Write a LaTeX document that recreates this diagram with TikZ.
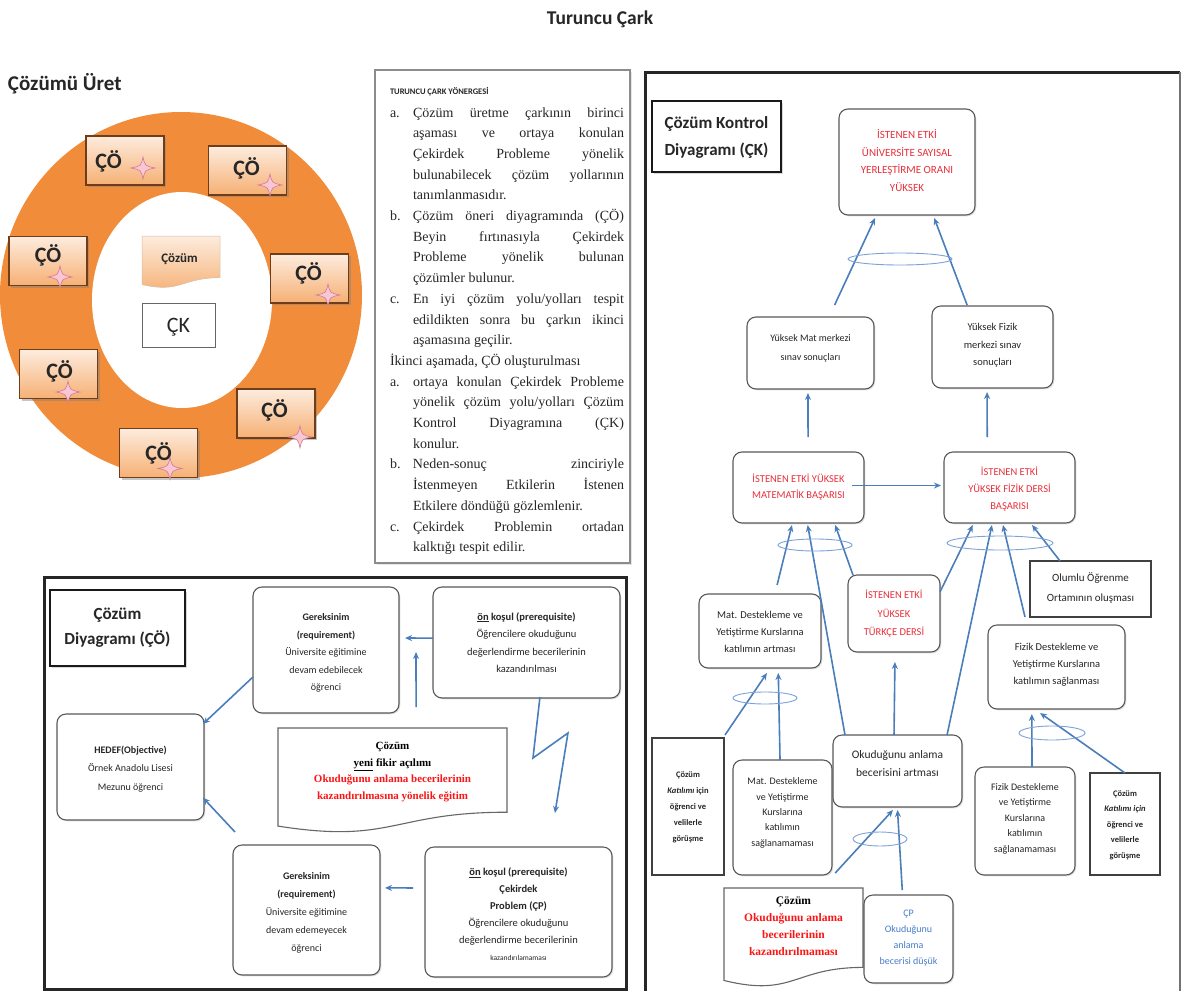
\documentclass[tikz,border=0pt]{standalone}
\usepackage{fontspec}
\setmainfont{Carlito}
\newfontfamily\tnr{Liberation Serif}
\usetikzlibrary{arrows.meta,calc,shadows}

\definecolor{ablue}{RGB}{74,126,187}
\definecolor{lblue}{RGB}{125,162,215}
\definecolor{ringor}{RGB}{241,141,58}
\definecolor{peachT}{RGB}{253,236,222}
\definecolor{peachB}{RGB}{246,176,116}
\definecolor{cobord}{RGB}{110,62,28}
\definecolor{red1}{RGB}{232,48,58}
\definecolor{red2}{RGB}{250,22,22}
\definecolor{cpblue}{RGB}{72,126,200}
\definecolor{spkL}{RGB}{247,200,212}
\definecolor{spkD}{RGB}{212,118,148}

% font size helper
\newcommand\fsz[2]{\fontsize{#1}{#2}\selectfont}
% text block placed at an offset (dx right, dy up) from the node centre
\newcommand\bxt[3]{\rlap{\kern#1pt\relax\makebox[0pt]{\raisebox{#2pt}[0pt][0pt]{\begin{tabular}{@{}c@{}}#3\end{tabular}}}}}
% justified and ragged lines of the instruction list
\newcommand\yline[2]{\makebox[23pt][l]{#1}\makebox[211pt][s]{#2}}
\newcommand\ylast[2]{\makebox[23pt][l]{#1}#2}
% flowchart "document" outline: x y w h style
\newcommand\docshape[5]{\path[#5, shift={(#1,#2)}, x=#3pt, y=-#4pt] (0,0) -- (1,0) -- (1,0.802) .. controls (0.5,0.802) and (0.5,1.107) .. (0,0.934) -- cycle;}
% four-pointed sparkle
\newcommand\sparkle[1]{\path[sparkle, shift={#1}] (0,-11) .. controls (2,-2) .. (12,0) .. controls (2,2) .. (0,11) .. controls (-2,2) .. (-12,0) .. controls (-2,-2) .. (0,-11) -- cycle;}

\begin{document}
\begin{tikzpicture}[x=1pt,y=-1pt,
  every node/.style={inner sep=0pt, outer sep=0pt},
  dim/.style 2 args={minimum width=#1pt, minimum height=#2pt},
  rb/.style={draw=black!65, line width=1.1pt, rounded corners=9pt, fill=white, text=black!85,
             drop shadow={shadow xshift=1.3pt, shadow yshift=-1.3pt, opacity=0.25}},
  sb/.style={draw=black!75, line width=1.1pt, fill=white, text=black!85,
             drop shadow={shadow xshift=1.3pt, shadow yshift=-1.3pt, opacity=0.25}},
  tb/.style={draw=black!90, line width=2pt, fill=white, text=black!85,
             drop shadow={shadow xshift=1.5pt, shadow yshift=-1.5pt, opacity=0.3}},
  co/.style={draw=cobord, line width=1.2pt, top color=peachT, bottom color=peachB, dim={78}{49},
             font=\bfseries\fsz{22}{23}, text=black!85,
             drop shadow={shadow xshift=2pt, shadow yshift=-2pt, opacity=0.45}},
  ar/.style={draw=ablue, line width=1.6pt, -{Stealth[length=7pt,width=6pt]}},
  loop/.style={draw=lblue, line width=0.9pt},
  sparkle/.style={draw=spkD, fill=spkL, line width=0.6pt},
  doc/.style={draw=black!60, line width=1.1pt, fill=white}]
\useasboundingbox (0,0) rectangle (1184,991);

% ---------- headings ----------
\node[font=\bfseries\fsz{19.5}{22}, text=black!85, anchor=base] (title) at (600,24) {Turuncu Çark};
\node[font=\bfseries\fsz{21}{24}, text=black!85, anchor=base west] (uret) at (8,90) {Çözümü Üret};

% ---------- solution wheel ----------
\fill[ringor] (181,295) ellipse [x radius=181, y radius=183];
\fill[white] (182,300) ellipse [x radius=90, y radius=108];

\docshape{142}{236}{78}{52}{top color=peachT, bottom color=peachB, draw=peachB!70!black!50, line width=0.5pt}
\node[dim={78}{52}, font=\bfseries\fsz{13}{15}, text=black!85] (czm) at (181,262) {\bxt{-1.5}{0}{Çözüm}};
\node[draw=black!60, line width=1pt, fill=white, dim={73}{44}, font=\fsz{22}{23}, text=black!85] (ck) at (178.5,325) {\bxt{0}{-8}{ÇK}};

\node[co] (co1) at (125,160.5) {\bxt{-16.5}{-7.5}{ÇÖ}};
\node[co] (co2) at (247.5,170.5) {\bxt{-1}{-5}{ÇÖ}};
\node[co] (co3) at (48,261) {\bxt{0}{-1.5}{ÇÖ}};
\node[co] (co4) at (309.5,278.5) {\bxt{-1}{-2}{ÇÖ}};
\node[co] (co5) at (58.5,374) {\bxt{1}{-4.5}{ÇÖ}};
\node[co] (co6) at (276,413.5) {\bxt{-1.5}{-4}{ÇÖ}};
\node[co] (co7) at (158.5,453) {\bxt{0}{-7.5}{ÇÖ}};

\sparkle{($(co1)+(18,7.5)$)}
\sparkle{($(co2)+(22.5,14.5)$)}
\sparkle{($(co3)+(12,16)$)}
\sparkle{($(co4)+(18.5,16.5)$)}
\sparkle{($(co5)+(9.5,18)$)}
\sparkle{($(co6)+(24,23.5)$)}
\sparkle{($(co7)+(11.5,15.5)$)}

% ---------- instruction box ----------
\node[draw=black!45, line width=1.3pt, fill=white, dim={255}{493}, anchor=north west,
      drop shadow={shadow xshift=1.5pt, shadow yshift=-1.5pt, opacity=0.2}] (yon) at (375,70) {};
\node[anchor=base west, font=\bfseries\fsz{8.5}{10}, text=black!85] (yontitle)
  at ($(yon.north west)+(15,24)$) {TURUNCU ÇARK YÖNERGESİ};
\node[anchor=base west, font=\tnr\fsz{14}{20.7}, text=black!85] (yonbody)
  at ($(yon.north west)+(15,47)$) {\begin{tabular}[t]{@{}l@{}}
\yline{a.}{Çözüm üretme çarkının birinci}\\
\yline{}{aşaması ve ortaya konulan}\\
\yline{}{Çekirdek Probleme yönelik}\\
\yline{}{bulunabilecek çözüm yollarının}\\
\ylast{}{tanımlanmasıdır.}\\
\yline{b.}{Çözüm öneri diyagramında (ÇÖ)}\\
\yline{}{Beyin fırtınasıyla Çekirdek}\\
\yline{}{Probleme yönelik bulunan}\\
\ylast{}{çözümler bulunur.}\\
\yline{c.}{En iyi çözüm yolu/yolları tespit}\\
\yline{}{edildikten sonra bu çarkın ikinci}\\
\ylast{}{aşamasına geçilir.}\\
İkinci aşamada, ÇÖ oluşturulması\\
\yline{a.}{ortaya konulan Çekirdek Probleme}\\
\yline{}{yönelik çözüm yolu/yolları Çözüm}\\
\yline{}{Kontrol Diyagramına (ÇK)}\\
\ylast{}{konulur.}\\
\yline{b.}{Neden-sonuç zinciriyle}\\
\yline{}{İstenmeyen Etkilerin İstenen}\\
\ylast{}{Etkilere döndüğü gözlemlenir.}\\
\yline{c.}{Çekirdek Problemin ortadan}\\
\ylast{}{kalktığı tespit edilir.}
\end{tabular}};

% ---------- solution control diagram (right panel) ----------
\draw[line width=3pt, black!85] (645,991) -- (645,72) -- (1180,72);
\draw[line width=1.3pt, black!55] (1180,72) -- (1180,991);

\node[tb, dim={129}{71}, font=\bfseries\fsz{17}{27}] (cktitle) at (716.5,136.5) {\bxt{0}{-4.25}{Çözüm Kontrol\\Diyagramı (ÇK)}};

\node[rb, dim={136}{106}, font=\fsz{11}{17.7}, text=red1] (goal) at (907,162) {\bxt{0}{-2.25}{İSTENEN ETKİ\\ÜNİVERSİTE SAYISAL\\YERLEŞTİRME ORANI\\YÜKSEK}};
\node[rb, dim={127}{72}, font=\fsz{10}{18.5}] (matres) at (810.5,353) {\bxt{0}{3}{Yüksek Mat merkezi\\sınav sonuçları}};
\node[rb, dim={121}{82}, font=\fsz{10.5}{17.5}] (fizres) at (992.5,347) {\bxt{0}{-0.5}{Yüksek Fizik\\merkezi sınav\\sonuçları}};
\node[rb, dim={131}{71}, font=\fsz{10.5}{16}, text=red1] (matach) at (798.5,487.5) {\bxt{0}{-2.25}{İSTENEN ETKİ YÜKSEK\\MATEMATİK BAŞARISI}};
\node[rb, dim={131}{71}, font=\fsz{10.5}{17}, text=red1] (fizach) at (1009.5,487.5) {\bxt{0}{-4.25}{İSTENEN ETKİ\\YÜKSEK FİZİK DERSİ\\BAŞARISI}};
\node[sb, dim={121}{56}, font=\fsz{11}{19.5}] (olumlu) at (1090.5,589) {\bxt{0}{-1.25}{Olumlu Öğrenme\\Ortamının oluşması}};
\node[rb, dim={92}{77}, font=\fsz{10.5}{18.5}, text=red1] (turkce) at (894,613.5) {\bxt{0}{-2.75}{İSTENEN ETKİ\\YÜKSEK\\TÜRKÇE DERSİ}};
\node[rb, dim={122}{74}, font=\fsz{10.5}{17}] (matdes) at (760,631) {\bxt{0}{-3.75}{Mat. Destekleme ve\\Yetiştirme Kurslarına\\katılımın artması}};
\node[rb, dim={137}{84}, font=\fsz{10.5}{17}] (fizdes) at (1056.5,667) {\bxt{0}{0.25}{Fizik Destekleme ve\\Yetiştirme Kurslarına\\katılımın sağlanması}};
\node[rb, dim={129}{72}, font=\fsz{11.5}{18}] (okuma) at (897.5,771) {\bxt{0}{4.25}{Okuduğunu anlama\\becerisini artması}};
\node[sb, dim={72}{137}, font=\bfseries\fsz{8.5}{16}] (cozl) at (688,806.5) {\bxt{0}{-2}{Çözüm\\\textit{Katılımı} için\\öğrenci ve\\velilerle\\görüşme}};
\node[rb, dim={99}{115}, font=\fsz{10}{15.3}] (matno) at (782.5,817.5) {\bxt{0}{2.5}{Mat. Destekleme\\ve Yetiştirme\\Kurslarına\\katılımın\\sağlanamaması}};
\node[rb, dim={100}{108}, font=\fsz{10}{15.5}] (fizno) at (1025,821) {\bxt{0}{0.5}{Fizik Destekleme\\ve Yetiştirme\\Kurslarına\\katılımın\\sağlanamaması}};
\node[sb, dim={70}{102}, font=\bfseries\fsz{8.5}{15.5}] (cozr) at (1125,824) {\bxt{0}{-2}{Çözüm\\\textit{Katılımı için}\\öğrenci ve\\velilerle\\görüşme}};

\docshape{724}{888}{139}{99}{doc}
\node[dim={139}{98}, font=\tnr\bfseries\fsz{11.5}{17}, text=red2] (cozdoc) at (793.5,937) {\bxt{0}{7}{\textcolor{black}{Çözüm}\\Okuduğunu anlama\\becerilerinin\\kazandırılmaması}};
\node[rb, dim={89}{88}, font=\fsz{10}{16}, text=cpblue] (cp) at (908.5,939) {\bxt{0}{-0.5}{ÇP\\Okuduğunu\\anlama\\becerisi düşük}};

% cause-effect links
\draw[ar] ($(matres.north west)!0.69!(matres.north east)+(0,-12)$) -- ($(goal.south west)!0.265!(goal.south east)+(0,3)$);
\draw[ar] ($(fizres.north west)!0.29!(fizres.north east)+(0,-1)$) -- ($(goal.south west)!0.70!(goal.south east)+(0,3)$);
\draw[loop] (900,259) ellipse [x radius=52, y radius=6];

\draw[ar] ($(matach.north west)!0.573!(matach.north east)+(0,-15)$) -- ($(matres.south west)!0.48!(matres.south east)+(0,4)$);
\draw[ar] ($(fizach.north west)!0.33!(fizach.north east)+(0,-15)$) -- ($(fizres.south west)!0.455!(fizres.south east)+(0,4)$);
\draw[ar] ($(matach.east)+(-12,-2)$) -- ($(fizach.west)+(-3,-2)$);

\draw[ar] ($(matdes.north west)!0.64!(matdes.north east)+(0,-9)$) -- ($(matach.south west)!0.45!(matach.south east)+(0,2)$);
\draw[ar] ($(okuma.north west)!0.093!(okuma.north east)$) -- ($(matach.south west)!0.57!(matach.south east)+(0,2)$);
\draw[ar] ($(turkce.north west)!0.054!(turkce.north east)$) -- ($(matach.south west)!0.78!(matach.south east)+(0,2)$);
\draw[loop] (815,545) ellipse [x radius=37, y radius=6];

\draw[ar] ($(turkce.north east)!0.22!(turkce.south east)$) -- ($(fizach.south west)!0.22!(fizach.south east)+(0,2)$);
\draw[ar] ($(okuma.north west)!0.884!(okuma.north east)$) -- ($(fizach.south west)!0.366!(fizach.south east)+(0,2)$);
\draw[ar] ($(fizdes.north west)!0.27!(fizdes.north east)+(0,-8)$) -- ($(fizach.south west)!0.45!(fizach.south east)+(0,2)$);
\draw[ar] ($(olumlu.north west)!0.248!(olumlu.north east)$) -- ($(fizach.south west)!0.672!(fizach.south east)+(0,2)$);
\draw[loop] (1000,543) ellipse [x radius=53, y radius=7];

\draw[ar] ($(okuma.north west)!0.473!(okuma.north east)$) -- ($(turkce.south west)!0.51!(turkce.south east)+(0,10)$);

\draw[ar] ($(cozl.north east)+(1,-3)$) -- ($(matdes.south west)!0.557!(matdes.south east)+(0,5)$);
\draw[ar] ($(matno.north west)!0.475!(matno.north east)$) -- ($(matdes.south west)!0.65!(matdes.south east)+(0,5)$);
\draw[loop] (765,698) ellipse [x radius=32, y radius=6];

\draw[ar] ($(cozdoc.north west)!0.80!(cozdoc.north east)+(0,-15)$) -- ($(okuma.south west)!0.465!(okuma.south east)+(0,3)$);
\draw[ar] ($(cp.north west)!0.43!(cp.north east)+(0,-5)$) -- ($(okuma.south west)!0.50!(okuma.south east)+(0,3)$);
\draw[loop] (880,839) ellipse [x radius=27, y radius=7];

\draw[ar] ($(fizno.north west)!0.57!(fizno.north east)$) -- ($(fizdes.south west)!0.32!(fizdes.south east)+(0,5)$);
\draw[ar] ($(cozr.north west)!0.5!(cozr.north east)$) -- ($(fizdes.south west)!0.38!(fizdes.south east)+(0,4)$);
\draw[loop] (1052,733) ellipse [x radius=33, y radius=7];

% ---------- solution diagram (bottom left panel) ----------
\draw[line width=3pt, black!85] (44,577) rectangle (626,989);

\node[tb, dim={135}{76}, font=\bfseries\fsz{17}{25}] (cotitle) at (117.5,628) {\bxt{0}{-3.25}{Çözüm\\Diyagramı (ÇÖ)}};
\node[rb, dim={147}{106}, font=\fsz{10}{18.5}] (hedef) at (130.5,767) {\bxt{0}{-3.5}{\textbf{HEDEF(Objective)}\\Örnek Anadolu Lisesi\\Mezunu öğrenci}};
\node[rb, dim={146}{126}, font=\fsz{10}{17.5}] (gertop) at (326,650) {\bxt{0}{-4.5}{\textbf{Gereksinim}\\\textbf{(requirement)}\\Üniversite eğitimine\\devam edebilecek\\öğrenci}};
\node[rb, dim={187}{111}, font=\fsz{10.5}{17.5}] (ontop) at (526.5,642.5) {\bxt{0}{-3}{\textbf{\underline{ön} koşul (prerequisite)}\\Öğrencilere okuduğunu\\değerlendirme becerilerinin\\kazandırılması}};

\docshape{278}{728}{229}{105}{doc}
\node[dim={229}{104}, font=\tnr\bfseries\fsz{11}{16.5}, text=red2] (codoc) at (392.5,780) {\bxt{0}{6}{\textcolor{black}{Çözüm}\\\textcolor{black}{\underline{yeni} fikir açılımı}\\Okuduğunu anlama becerilerinin\\kazandırılmasına yönelik eğitim}};

\node[rb, dim={147}{130}, font=\fsz{10}{18}] (gerbot) at (306.5,910) {\bxt{0}{-4.5}{\textbf{Gereksinim}\\\textbf{(requirement)}\\Üniversite eğitimine\\devam edemeyecek\\öğrenci}};
\node[rb, dim={187}{130}, font=\fsz{10.5}{17}] (onbot) at (518.5,912) {\bxt{0}{-5.5}{\textbf{\underline{ön} koşul (prerequisite)}\\\textbf{Çekirdek}\\\textbf{Problem (ÇP)}\\Öğrencilere okuduğunu\\değerlendirme becerilerinin\\{\fsz{7.5}{9}kazandırılamaması}}};

\draw[ar] ($(gertop.north west)!0.714!(gertop.south west)$) -- ($(hedef.north east)!0.094!(hedef.south east)+(-1,0)$);
\draw[ar] ($(gerbot.north west)+(2,-13)$) -- ($(hedef.north east)!0.79!(hedef.south east)+(-1,0)$);
\draw[ar] ($(ontop.north west)!0.46!(ontop.south west)$) -- ($(gertop.north east)!0.405!(gertop.south east)+(6,0)$);
\draw[ar] ($(codoc.north west)!0.603!(codoc.north east)+(0,-21)$) -- ($(gertop.east)+(17,2)$);
\draw[ar] ($(ontop.south west)!0.572!(ontop.south east)+(0,-1)$) -- ++(-7,61) -- ++(35,-25)
  -- ($(onbot.north west)!0.695!(onbot.north east)+(0,-34)$);
\draw[ar] ($(onbot.north west)!0.315!(onbot.south west)+(-12,0)$) -- ($(gerbot.north east)!0.33!(gerbot.south east)+(5,0)$);

\end{tikzpicture}
\end{document}
